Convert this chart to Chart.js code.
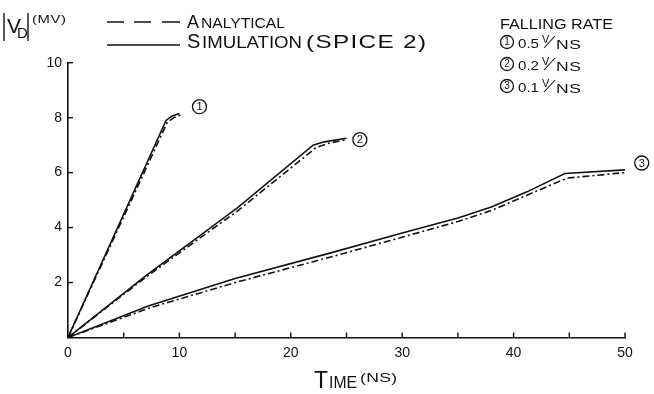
<!DOCTYPE html>
<html>
<head>
<meta charset="utf-8">
<script src="https://cdn.jsdelivr.net/npm/chart.js@4.4.1/dist/chart.umd.min.js"></script>
<style>
html,body{margin:0;padding:0;background:#fff;}
#c{display:block;}
</style>
</head>
<body>
<canvas id="c" width="654" height="394"></canvas>
<script>
// ---- data ----
const xTickValues = [0, 10, 20, 30, 40, 50];
const yTickValues = [2, 4, 6, 8, 10];

const simTime1 = [0, 8.8, 9.3, 10];
const simVolt1 = [0, 7.9, 8.05, 8.15];
const anaTime1 = [0, 8.9, 9.5, 10.1];
const anaVolt1 = [0, 7.82, 8.0, 8.1];

const simTime2 = [0, 7, 15.2, 22, 23, 25];
const simVolt2 = [0, 2.25, 4.72, 7.0, 7.12, 7.25];
const anaTime2 = [0, 7, 15.2, 22.3, 23.5, 25];
const anaVolt2 = [0, 2.2, 4.6, 6.92, 7.08, 7.2];

const simTime3 = [0, 7.2, 15, 23.5, 30, 35, 38, 41.2, 44.6, 50];
const simVolt3 = [0, 1.15, 2.15, 3.07, 3.8, 4.35, 4.75, 5.3, 5.97, 6.1];
const anaTime3 = [0, 7.5, 15, 23.5, 30, 35, 38, 41.2, 44.8, 50];
const anaVolt3 = [0, 1.1, 2.0, 2.92, 3.65, 4.22, 4.62, 5.18, 5.8, 6.0];

const curveIds = ['1', '2', '3'];
const fallingRates = ['0.5', '0.2', '0.1'];
const curveLabelAt = [[11.8, 8.4], [26.2, 7.2], [51.5, 6.35]];

// ---- helpers ----
const ink = '#111';
const FONT = '"Liberation Sans", Arial, sans-serif';
function pts(t, v) { return t.map((x, i) => ({ x: x, y: v[i] })); }
function simSet(t, v) {
  return { data: pts(t, v), borderColor: ink, borderWidth: 1.6, pointRadius: 0, tension: 0, fill: false };
}
function anaSet(t, v) {
  return { data: pts(t, v), borderColor: ink, borderWidth: 1.6, borderDash: [7, 3, 2, 3], pointRadius: 0, tension: 0, fill: false };
}
// draw text so that it spans width w: stretch horizontally (up to 1.35x), then add letter spacing
function fitText(ctx, s, x, y, size, w) {
  ctx.save();
  ctx.font = size + 'px ' + FONT;
  ctx.letterSpacing = '0px';
  const m = ctx.measureText(s).width;
  const n = [...s].length;
  let sx = w / m;
  if (sx > 1.35) sx = 1.35;
  if (sx < 0.7) sx = 0.7;
  const rest = w - m * sx;
  const sp = n > 1 ? Math.max(0, rest / (n - 1) / sx) : 0;
  ctx.translate(x, y);
  ctx.scale(sx, 1);
  ctx.letterSpacing = sp + 'px';
  ctx.fillText(s, 0, 0);
  ctx.restore();
}
function circled(ctx, d, cx, cy, r, size) {
  ctx.beginPath();
  ctx.lineWidth = 1.3;
  ctx.arc(cx, cy, r, 0, Math.PI * 2);
  ctx.stroke();
  ctx.font = size + 'px ' + FONT;
  ctx.textAlign = 'center';
  ctx.textBaseline = 'middle';
  ctx.fillText(d, cx, cy + 0.5);
  ctx.textAlign = 'left';
  ctx.textBaseline = 'alphabetic';
}

const decor = {
  id: 'decor',
  afterDraw(chart) {
    const ctx = chart.ctx;
    const xs = chart.scales.x, ys = chart.scales.y;
    ctx.save();
    ctx.strokeStyle = ink;
    ctx.fillStyle = ink;
    ctx.lineCap = 'butt';
    // inward ticks
    ctx.lineWidth = 1.4;
    const y0 = ys.getPixelForValue(0);
    const x0 = xs.getPixelForValue(0);
    for (let t = 5; t <= 50; t += 5) {
      const px = xs.getPixelForValue(t);
      ctx.beginPath(); ctx.moveTo(px, y0); ctx.lineTo(px, y0 - 5); ctx.stroke();
    }
    for (let v = 2; v <= 10; v += 2) {
      const py = ys.getPixelForValue(v);
      ctx.beginPath(); ctx.moveTo(x0, py); ctx.lineTo(x0 + 5, py); ctx.stroke();
    }
    // curve labels
    curveIds.forEach((id, i) => {
      const p = curveLabelAt[i];
      circled(ctx, id, xs.getPixelForValue(p[0]), ys.getPixelForValue(p[1]), 7, 11);
    });

    // y-axis title |V_D| (MV)
    ctx.lineWidth = 1.4;
    ctx.beginPath(); ctx.moveTo(4, 13); ctx.lineTo(4, 41); ctx.stroke();
    ctx.beginPath(); ctx.moveTo(28, 13); ctx.lineTo(28, 41); ctx.stroke();
    ctx.font = '21px ' + FONT;
    ctx.fillText('V', 7, 33);
    ctx.font = '15px ' + FONT;
    ctx.fillText('D', 17, 38);
    fitText(ctx, '(MV)', 32, 23, 11, 34);

    // legend
    ctx.lineWidth = 1.5;
    [[107, 124], [134, 151], [162, 180]].forEach(s => {
      ctx.beginPath(); ctx.moveTo(s[0], 22); ctx.lineTo(s[1], 22); ctx.stroke();
    });
    ctx.font = '18px ' + FONT;
    ctx.fillText('A', 187, 28);
    fitText(ctx, 'NALYTICAL', 201, 28, 14, 84);
    ctx.beginPath(); ctx.moveTo(107, 45); ctx.lineTo(180, 45); ctx.stroke();
    ctx.font = '20px ' + FONT;
    ctx.fillText('S', 187, 48);
    fitText(ctx, 'IMULATION', 202, 48, 16, 100);
    fitText(ctx, '(SPICE 2)', 306, 48, 18, 120);

    // falling-rate key
    fitText(ctx, 'FALLING RATE', 500, 29, 14, 113);
    fallingRates.forEach((r, i) => {
      const cy = 42 + i * 22;
      circled(ctx, curveIds[i], 507, cy, 6.5, 10);
      fitText(ctx, r, 518, cy + 6, 13, 21);
      ctx.font = '11px ' + FONT;
      ctx.fillText('V', 542, cy + 1);
      ctx.lineWidth = 1.1;
      ctx.beginPath(); ctx.moveTo(544, cy + 6); ctx.lineTo(555, cy - 6); ctx.stroke();
      fitText(ctx, 'NS', 556, cy + 7, 13, 25);
    });

    // x-axis title
    ctx.font = '23px ' + FONT;
    ctx.fillText('T', 314, 388);
    fitText(ctx, 'IME', 329, 388, 16, 28);
    fitText(ctx, '(NS)', 360, 382, 13, 37);
    ctx.restore();
  }
};

new Chart(document.getElementById('c'), {
  type: 'line',
  data: {
    datasets: [
      simSet(simTime1, simVolt1), anaSet(anaTime1, anaVolt1),
      simSet(simTime2, simVolt2), anaSet(anaTime2, anaVolt2),
      simSet(simTime3, simVolt3), anaSet(anaTime3, anaVolt3)
    ]
  },
  options: {
    responsive: false,
    devicePixelRatio: 1,
    animation: false,
    layout: { padding: { top: 62.7, right: 29, left: 0, bottom: 0 } },
    plugins: { legend: { display: false }, tooltip: { enabled: false } },
    scales: {
      x: {
        type: 'linear', min: 0, max: 50,
        afterBuildTicks: s => { s.ticks = xTickValues.map(v => ({ value: v })); },
        ticks: { color: ink, font: { size: 14, family: FONT }, padding: 7, maxRotation: 0, autoSkip: false },
        grid: { drawOnChartArea: false, drawTicks: false },
        border: { color: ink, width: 1.6 },
        afterFit: s => { s.height = 394 - 337.5; s.paddingLeft = 0; s.paddingRight = 0; }
      },
      y: {
        type: 'linear', min: 0, max: 10,
        afterBuildTicks: s => { s.ticks = yTickValues.map(v => ({ value: v })); },
        ticks: { color: ink, font: { size: 14, family: FONT }, padding: 6 },
        grid: { drawOnChartArea: false, drawTicks: false },
        border: { color: ink, width: 1.6 },
        afterFit: s => { s.width = 68; s.paddingTop = 0; s.paddingBottom = 0; }
      }
    }
  },
  plugins: [decor]
});
</script>
</body>
</html>
